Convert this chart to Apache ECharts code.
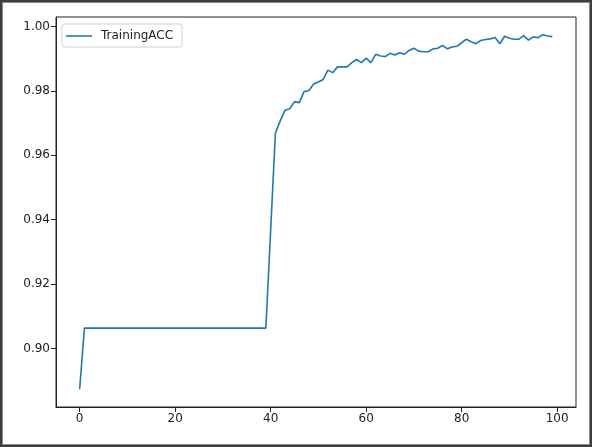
<!DOCTYPE html>
<html>
<head>
<meta charset="utf-8">
<script src="https://cdn.jsdelivr.net/npm/echarts@6/dist/echarts.min.js"></script>
<style>
  html, body { margin: 0; padding: 0; background: #fff; }
  #wrap { position: relative; width: 592px; height: 447px; }
  #chart { position: absolute; left: 0; top: 0; width: 592px; height: 447px; }
  #frame {
    position: absolute; left: 0; top: 0; width: 592px; height: 447px;
    box-sizing: border-box; border: 2px solid #3d3d3d;
    box-shadow: inset 0 0 0 1px #8a8a8a;
    pointer-events: none;
  }
</style>
</head>
<body>
<div id="wrap">
  <div id="chart"></div>
  <div id="frame"></div>
</div>
<script>
// training accuracy per epoch (0..99)
const acc = [
  0.8873,
  0.9063, 0.9063, 0.9063, 0.9063, 0.9063, 0.9063, 0.9063, 0.9063, 0.9063, 0.9063,
  0.9063, 0.9063, 0.9063, 0.9063, 0.9063, 0.9063, 0.9063, 0.9063, 0.9063, 0.9063,
  0.9063, 0.9063, 0.9063, 0.9063, 0.9063, 0.9063, 0.9063, 0.9063, 0.9063, 0.9063,
  0.9063, 0.9063, 0.9063, 0.9063, 0.9063, 0.9063, 0.9063, 0.9063, 0.9063,
  0.9366, 0.9669, 0.9707, 0.9740, 0.9745, 0.9767, 0.9764, 0.9798, 0.9801, 0.9822,
  0.9828, 0.9836, 0.9865, 0.9857, 0.9875, 0.9875, 0.9875, 0.9888, 0.9898, 0.9888,
  0.9902, 0.9888, 0.9914, 0.9909, 0.9907, 0.9917, 0.9912, 0.9919, 0.9914, 0.9926,
  0.9933, 0.9924, 0.9922, 0.9922, 0.9931, 0.9933, 0.9942, 0.9931, 0.9937, 0.9939,
  0.9950, 0.9961, 0.9953, 0.9947, 0.9957, 0.9960, 0.9962, 0.9966, 0.9947, 0.9970,
  0.9964, 0.9961, 0.9961, 0.9972, 0.9958, 0.9968, 0.9966, 0.9975, 0.9971, 0.9969
]
const xTicks = [0, 20, 40, 60, 80, 100]
const yTicks = [0.90, 0.92, 0.94, 0.96, 0.98, 1.00]

const points = acc.map((v, i) => [i, v])

const font = 'DejaVu Sans'
const ink = '#222'

const chart = echarts.init(document.getElementById('chart'), null, { renderer: 'canvas' })

chart.setOption({
  backgroundColor: '#fff',
  animation: false,
  grid: {
    left: 56,
    right: 16,
    top: 17,
    bottom: 40,
    show: true,
    borderColor: ink,
    borderWidth: 1,
  },
  legend: {
    left: 62,
    top: 24,
    orient: 'vertical',
    padding: [6, 9, 5, 4],
    borderColor: '#d0d0d0',
    borderWidth: 1,
    borderRadius: 3,
    backgroundColor: '#fff',
    icon: 'rect',
    itemWidth: 26,
    itemHeight: 1.6,
    textStyle: {
      fontFamily: font,
      fontSize: 12,
      color: ink,
      padding: [0, 0, 0, 4],
    },
    data: ['TrainingACC'],
  },
  xAxis: {
    type: 'value',
    min: -4.95,
    max: 103.95,
    splitLine: { show: false },
    axisLine: { onZero: false, lineStyle: { color: ink, width: 1 } },
    axisTick: {
      customValues: xTicks,
      length: 5,
      lineStyle: { color: ink },
    },
    axisLabel: {
      customValues: xTicks,
      margin: 6,
      fontFamily: font,
      fontSize: 12,
      color: ink,
    },
  },
  yAxis: {
    type: 'value',
    min: 0.8818,
    max: 1.0030,
    splitLine: { show: false },
    axisLine: { show: true, onZero: false, lineStyle: { color: ink, width: 1 } },
    axisTick: {
      show: true,
      customValues: yTicks,
      length: 5,
      lineStyle: { color: ink },
    },
    axisLabel: {
      customValues: yTicks,
      margin: 6,
      fontFamily: font,
      fontSize: 12,
      color: ink,
      formatter: v => v.toFixed(2),
    },
  },
  series: [
    {
      name: 'TrainingACC',
      type: 'line',
      data: points,
      showSymbol: false,
      symbol: 'none',
      lineStyle: { width: 1.6, color: '#1f77b4' },
      itemStyle: { color: '#1f77b4' },
    },
  ],
})
</script>
</body>
</html>
